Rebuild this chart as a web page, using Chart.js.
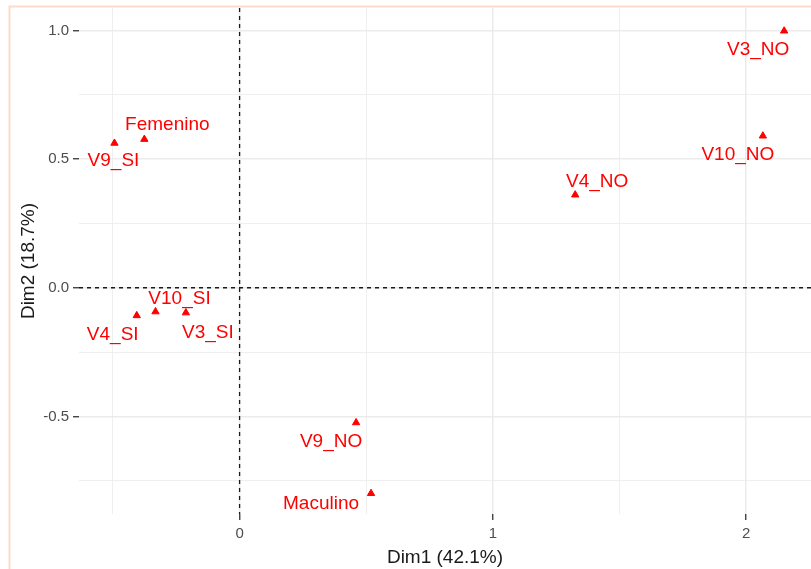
<!DOCTYPE html>
<html lang="es">
<head>
  <meta charset="UTF-8">
  <title>Dim1 vs Dim2</title>
  <script src="https://cdn.jsdelivr.net/npm/chart.js"></script>
  <style>
    html, body { margin: 0; padding: 0; background: #fff; }
  </style>
</head>
<body>
  <canvas id="grafico" width="811" height="569"></canvas>

  <script>
    // Datos
    const categorias = ['V3_NO', 'V10_NO', 'V4_NO', 'Femenino', 'V9_SI', 'V4_SI', 'V10_SI', 'V3_SI', 'V9_NO', 'Maculino'];
    const dim1 = [2.150, 2.066, 1.325, -0.376, -0.494, -0.406, -0.332, -0.212, 0.460, 0.519];
    const dim2 = [0.998, 0.590, 0.361, 0.577, 0.562, -0.108, -0.093, -0.097, -0.524, -0.799];

    const xTicksMayores = [0, 1, 2];
    const xTicksMenores = [-0.5, 0.5, 1.5];
    const yTicksMayores = [-0.5, 0, 0.5, 1];
    const yTicksMenores = [-0.75, -0.25, 0.25, 0.75];

    const fuente = "'Liberation Sans', Arial, sans-serif";

    // desplazamiento de cada etiqueta respecto a su punto (px)
    const desplazamientos = {
      'V3_NO': [-26, 19], 'V10_NO': [-25, 19], 'V4_NO': [22, -13], 'Femenino': [23, -14],
      'V9_SI': [-1, 18], 'V4_SI': [-24, 19], 'V10_SI': [24, -13], 'V3_SI': [22, 20],
      'V9_NO': [-25, 19], 'Maculino': [-50, 10]
    };

    const puntos = dim1.map((v, i) => ({ x: v, y: dim2[i] }));

    const todosTicks = (may, men) => [...may, ...men].sort((a, b) => a - b).map(v => ({ value: v }));

    const marcoYCeros = {
      id: 'marcoYCeros',
      beforeDraw(chart) {
        const ctx = chart.ctx;
        ctx.save();
        ctx.fillStyle = '#fff';
        ctx.fillRect(0, 0, chart.width, chart.height);
        ctx.strokeStyle = '#f9dccb';
        ctx.lineWidth = 2;
        ctx.beginPath();
        ctx.moveTo(9.5, chart.height);
        ctx.lineTo(9.5, 6.5);
        ctx.lineTo(chart.width, 6.5);
        ctx.stroke();
        ctx.restore();
      },
      beforeDatasetsDraw(chart) {
        const { ctx, chartArea: a, scales: { x, y } } = chart;
        const x0 = x.getPixelForValue(0);
        const y0 = y.getPixelForValue(0);
        ctx.save();
        ctx.strokeStyle = '#1a1a1a';
        ctx.lineWidth = 1.3;
        ctx.setLineDash([4, 4]);
        ctx.beginPath();
        ctx.moveTo(x0, a.top);
        ctx.lineTo(x0, a.bottom);
        ctx.moveTo(a.left, y0);
        ctx.lineTo(a.right, y0);
        ctx.stroke();
        ctx.restore();
      }
    };

    const etiquetas = {
      id: 'etiquetas',
      afterDatasetsDraw(chart) {
        const ctx = chart.ctx;
        const meta = chart.getDatasetMeta(0);
        ctx.save();
        ctx.font = '19px ' + fuente;
        ctx.fillStyle = '#ff0000';
        ctx.textAlign = 'center';
        ctx.textBaseline = 'middle';
        meta.data.forEach((p, i) => {
          const d = desplazamientos[categorias[i]] || [0, 0];
          ctx.fillText(categorias[i], p.x + d[0], p.y + d[1]);
        });
        ctx.restore();
      }
    };

    new Chart(document.getElementById('grafico'), {
      type: 'scatter',
      data: {
        labels: categorias,
        datasets: [{
          data: puntos,
          pointStyle: 'triangle',
          pointRadius: 4.2,
          backgroundColor: '#ff0000',
          borderColor: '#ff0000',
          borderWidth: 1,
          clip: false
        }]
      },
      options: {
        responsive: false,
        animation: false,
        layout: { autoPadding: false, padding: { left: 0, top: 8, right: 0, bottom: 0 } },
        plugins: { legend: { display: false }, tooltip: { enabled: false } },
        scales: {
          x: {
            type: 'linear',
            min: -0.634,
            max: 2.256,
            afterBuildTicks: s => { s.ticks = todosTicks(xTicksMayores, xTicksMenores); },
            afterFit: s => { s.height = 55; s.paddingLeft = 0; s.paddingRight = 0; },
            border: { display: false },
            grid: {
              color: '#ebebeb',
              lineWidth: c => (c.tick && xTicksMayores.includes(c.tick.value)) ? 1.5 : 0.8,
              tickColor: c => (c.tick && xTicksMayores.includes(c.tick.value)) ? '#333' : 'rgba(0,0,0,0)',
              tickLength: 6,
              tickWidth: 1.3
            },
            ticks: {
              padding: 5,
              autoSkip: false,
              maxRotation: 0,
              color: '#4d4d4d',
              font: { size: 15, family: fuente },
              callback: v => xTicksMayores.includes(v) ? String(v) : ''
            },
            title: {
              display: true,
              text: 'Dim1 (42.1%)',
              color: '#1a1a1a',
              font: { size: 19, family: fuente },
              padding: { top: 0, bottom: 0 }
            }
          },
          y: {
            type: 'linear',
            min: -0.879,
            max: 1.087,
            afterBuildTicks: s => { s.ticks = todosTicks(yTicksMayores, yTicksMenores); },
            afterFit: s => { s.width = 79; s.paddingTop = 0; s.paddingBottom = 0; },
            border: { display: false },
            grid: {
              color: '#ebebeb',
              lineWidth: c => (c.tick && yTicksMayores.includes(c.tick.value)) ? 1.5 : 0.8,
              tickColor: c => (c.tick && yTicksMayores.includes(c.tick.value)) ? '#333' : 'rgba(0,0,0,0)',
              tickLength: 6,
              tickWidth: 1.3
            },
            ticks: {
              padding: 4,
              autoSkip: false,
              color: '#4d4d4d',
              font: { size: 15, family: fuente },
              callback: v => yTicksMayores.includes(v) ? v.toFixed(1) : ''
            },
            title: {
              display: true,
              text: 'Dim2 (18.7%)',
              color: '#1a1a1a',
              font: { size: 19, family: fuente },
              padding: { top: 17, bottom: 0 }
            }
          }
        }
      },
      plugins: [marcoYCeros, etiquetas]
    });
  </script>
</body>
</html>
